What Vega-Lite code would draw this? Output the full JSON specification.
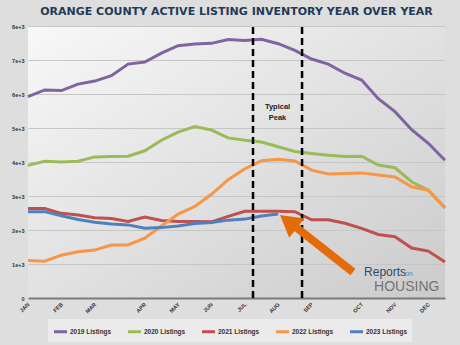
{
  "$schema": "https://vega.github.io/schema/vega-lite/v6.json",
  "width": 417,
  "height": 272,
  "autosize": {"type": "none"},
  "padding": {"left": 28, "top": 26, "right": 15, "bottom": 47},
  "background": "#dedede",
  "title": {
    "text": "ORANGE COUNTY ACTIVE LISTING INVENTORY YEAR OVER YEAR",
    "font": "DejaVu Sans",
    "fontSize": 11,
    "fontWeight": "bold",
    "color": "#1f3b57",
    "anchor": "middle",
    "offset": 7
  },
  "datasets": {
    "main": [
      {"week": 0, "series": "2019 Listings", "value": 5920},
      {"week": 1, "series": "2019 Listings", "value": 6120},
      {"week": 2, "series": "2019 Listings", "value": 6100},
      {"week": 3, "series": "2019 Listings", "value": 6290},
      {"week": 4, "series": "2019 Listings", "value": 6380},
      {"week": 5, "series": "2019 Listings", "value": 6540},
      {"week": 6, "series": "2019 Listings", "value": 6880},
      {"week": 7, "series": "2019 Listings", "value": 6940},
      {"week": 8, "series": "2019 Listings", "value": 7200},
      {"week": 9, "series": "2019 Listings", "value": 7420},
      {"week": 10, "series": "2019 Listings", "value": 7470},
      {"week": 11, "series": "2019 Listings", "value": 7490},
      {"week": 12, "series": "2019 Listings", "value": 7600},
      {"week": 13, "series": "2019 Listings", "value": 7570},
      {"week": 14, "series": "2019 Listings", "value": 7610},
      {"week": 15, "series": "2019 Listings", "value": 7480},
      {"week": 16, "series": "2019 Listings", "value": 7280},
      {"week": 17, "series": "2019 Listings", "value": 7030},
      {"week": 18, "series": "2019 Listings", "value": 6880},
      {"week": 19, "series": "2019 Listings", "value": 6610},
      {"week": 20, "series": "2019 Listings", "value": 6410},
      {"week": 21, "series": "2019 Listings", "value": 5860},
      {"week": 22, "series": "2019 Listings", "value": 5480},
      {"week": 23, "series": "2019 Listings", "value": 4950},
      {"week": 24, "series": "2019 Listings", "value": 4550},
      {"week": 25, "series": "2019 Listings", "value": 4050},
      {"week": 0, "series": "2020 Listings", "value": 3900},
      {"week": 1, "series": "2020 Listings", "value": 4020},
      {"week": 2, "series": "2020 Listings", "value": 4000},
      {"week": 3, "series": "2020 Listings", "value": 4020},
      {"week": 4, "series": "2020 Listings", "value": 4150},
      {"week": 5, "series": "2020 Listings", "value": 4160},
      {"week": 6, "series": "2020 Listings", "value": 4170},
      {"week": 7, "series": "2020 Listings", "value": 4330},
      {"week": 8, "series": "2020 Listings", "value": 4640},
      {"week": 9, "series": "2020 Listings", "value": 4880},
      {"week": 10, "series": "2020 Listings", "value": 5040},
      {"week": 11, "series": "2020 Listings", "value": 4940},
      {"week": 12, "series": "2020 Listings", "value": 4710},
      {"week": 13, "series": "2020 Listings", "value": 4640},
      {"week": 14, "series": "2020 Listings", "value": 4590},
      {"week": 15, "series": "2020 Listings", "value": 4450},
      {"week": 16, "series": "2020 Listings", "value": 4310},
      {"week": 17, "series": "2020 Listings", "value": 4250},
      {"week": 18, "series": "2020 Listings", "value": 4200},
      {"week": 19, "series": "2020 Listings", "value": 4160},
      {"week": 20, "series": "2020 Listings", "value": 4170},
      {"week": 21, "series": "2020 Listings", "value": 3910},
      {"week": 22, "series": "2020 Listings", "value": 3830},
      {"week": 23, "series": "2020 Listings", "value": 3420},
      {"week": 24, "series": "2020 Listings", "value": 3170},
      {"week": 25, "series": "2020 Listings", "value": 2660},
      {"week": 0, "series": "2021 Listings", "value": 2630},
      {"week": 1, "series": "2021 Listings", "value": 2630},
      {"week": 2, "series": "2021 Listings", "value": 2490},
      {"week": 3, "series": "2021 Listings", "value": 2440},
      {"week": 4, "series": "2021 Listings", "value": 2360},
      {"week": 5, "series": "2021 Listings", "value": 2340},
      {"week": 6, "series": "2021 Listings", "value": 2250},
      {"week": 7, "series": "2021 Listings", "value": 2380},
      {"week": 8, "series": "2021 Listings", "value": 2280},
      {"week": 9, "series": "2021 Listings", "value": 2250},
      {"week": 10, "series": "2021 Listings", "value": 2250},
      {"week": 11, "series": "2021 Listings", "value": 2240},
      {"week": 12, "series": "2021 Listings", "value": 2400},
      {"week": 13, "series": "2021 Listings", "value": 2550},
      {"week": 14, "series": "2021 Listings", "value": 2550},
      {"week": 15, "series": "2021 Listings", "value": 2550},
      {"week": 16, "series": "2021 Listings", "value": 2540},
      {"week": 17, "series": "2021 Listings", "value": 2300},
      {"week": 18, "series": "2021 Listings", "value": 2300},
      {"week": 19, "series": "2021 Listings", "value": 2200},
      {"week": 20, "series": "2021 Listings", "value": 2050},
      {"week": 21, "series": "2021 Listings", "value": 1870},
      {"week": 22, "series": "2021 Listings", "value": 1800},
      {"week": 23, "series": "2021 Listings", "value": 1470},
      {"week": 24, "series": "2021 Listings", "value": 1380},
      {"week": 25, "series": "2021 Listings", "value": 1060},
      {"week": 0, "series": "2022 Listings", "value": 1100},
      {"week": 1, "series": "2022 Listings", "value": 1080},
      {"week": 2, "series": "2022 Listings", "value": 1260},
      {"week": 3, "series": "2022 Listings", "value": 1360},
      {"week": 4, "series": "2022 Listings", "value": 1410},
      {"week": 5, "series": "2022 Listings", "value": 1560},
      {"week": 6, "series": "2022 Listings", "value": 1560},
      {"week": 7, "series": "2022 Listings", "value": 1760},
      {"week": 8, "series": "2022 Listings", "value": 2120},
      {"week": 9, "series": "2022 Listings", "value": 2470},
      {"week": 10, "series": "2022 Listings", "value": 2690},
      {"week": 11, "series": "2022 Listings", "value": 3050},
      {"week": 12, "series": "2022 Listings", "value": 3480},
      {"week": 13, "series": "2022 Listings", "value": 3800},
      {"week": 14, "series": "2022 Listings", "value": 4040},
      {"week": 15, "series": "2022 Listings", "value": 4080},
      {"week": 16, "series": "2022 Listings", "value": 4030},
      {"week": 17, "series": "2022 Listings", "value": 3760},
      {"week": 18, "series": "2022 Listings", "value": 3650},
      {"week": 19, "series": "2022 Listings", "value": 3660},
      {"week": 20, "series": "2022 Listings", "value": 3680},
      {"week": 21, "series": "2022 Listings", "value": 3620},
      {"week": 22, "series": "2022 Listings", "value": 3560},
      {"week": 23, "series": "2022 Listings", "value": 3270},
      {"week": 24, "series": "2022 Listings", "value": 3170},
      {"week": 25, "series": "2022 Listings", "value": 2640},
      {"week": 0, "series": "2023 Listings", "value": 2540},
      {"week": 1, "series": "2023 Listings", "value": 2540},
      {"week": 2, "series": "2023 Listings", "value": 2420},
      {"week": 3, "series": "2023 Listings", "value": 2310},
      {"week": 4, "series": "2023 Listings", "value": 2230},
      {"week": 5, "series": "2023 Listings", "value": 2180},
      {"week": 6, "series": "2023 Listings", "value": 2150},
      {"week": 7, "series": "2023 Listings", "value": 2050},
      {"week": 8, "series": "2023 Listings", "value": 2070},
      {"week": 9, "series": "2023 Listings", "value": 2120},
      {"week": 10, "series": "2023 Listings", "value": 2190},
      {"week": 11, "series": "2023 Listings", "value": 2220},
      {"week": 12, "series": "2023 Listings", "value": 2290},
      {"week": 13, "series": "2023 Listings", "value": 2320},
      {"week": 14, "series": "2023 Listings", "value": 2410},
      {"week": 15, "series": "2023 Listings", "value": 2470}
    ],
    "peaks": [{"week": 13.49, "value": 0, "value2": 8000}, {"week": 16.43, "value": 0, "value2": 8000}],
    "peaklabel": [{"week": 14.96, "value": 5560, "label": "Typical\nPeak"}],
    "arrow": [{"week": 19.48, "value": 765, "week2": 15.89, "value2": 2150}],
    "arrowhead": [{"week": 15.61, "value": 2250}],
    "logo1": [{"week": 20.15, "value": 650, "label": "Reports"}],
    "logo2": [{"week": 22.6, "value": 650, "label": "on"}],
    "logo3": [{"week": 20.75, "value": 205, "label": "HOUSING"}]
  },
  "encoding": {
    "x": {
      "field": "week",
      "type": "quantitative",
      "scale": {"domain": [0, 25], "nice": false, "zero": false},
      "axis": {
        "title": null,
        "values": [0, 2, 4, 7, 9, 11, 13, 15, 17, 20, 22, 24],
        "labelExpr": "['JAN','','FEB','','MAR','','','APR','','MAY','','JUN','','JUL','','AUG','','SEP','','','OCT','','NOV','','DEC',''][datum.value]",
        "labelAngle": -45,
        "labelAlign": "right",
        "labelBaseline": "middle",
        "labelFont": "Liberation Sans",
        "labelFontSize": 5.5,
        "labelFontWeight": "bold",
        "labelColor": "#333333",
        "labelPadding": 5,
        "labelFlush": false,
        "labelOverlap": false,
        "ticks": false,
        "grid": false,
        "domainColor": "#7a7a7a",
        "domainWidth": 2
      }
    },
    "y": {
      "field": "value",
      "type": "quantitative",
      "scale": {"domain": [0, 8000], "nice": false},
      "axis": {
        "title": null,
        "values": [0, 1000, 2000, 3000, 4000, 5000, 6000, 7000, 8000],
        "format": ",",
        "labelFont": "Liberation Sans",
        "labelFontSize": 5.5,
        "labelFontWeight": "bold",
        "labelColor": "#333333",
        "labelPadding": 4,
        "labelOverlap": false,
        "ticks": false,
        "domain": false,
        "grid": true,
        "gridColor": "#c6c6c6",
        "gridWidth": 1
      }
    }
  },
  "layer": [
    {
      "data": {"name": "main"},
      "mark": {"type": "line", "strokeWidth": 3, "interpolate": "linear"},
      "encoding": {
        "color": {
          "field": "series",
          "type": "nominal",
          "scale": {
            "domain": ["2019 Listings", "2020 Listings", "2021 Listings", "2022 Listings", "2023 Listings"],
            "range": ["#8064a2", "#9bbb59", "#c0504d", "#f79646", "#4f81bd"]
          },
          "legend": {
            "title": null,
            "orient": "none",
            "legendX": 20,
            "legendY": 293,
            "direction": "horizontal",
            "fillColor": "#ebebeb",
            "padding": 4,
            "symbolType": "stroke",
            "symbolStrokeWidth": 3,
            "symbolSize": 170,
            "labelFont": "Liberation Sans",
            "labelFontSize": 6.5,
            "labelFontWeight": "bold",
            "labelColor": "#333333",
            "labelOffset": 1,
            "columnPadding": 9
          }
        }
      }
    },
    {
      "data": {"name": "peaks"},
      "mark": {"type": "rule", "color": "#000000", "strokeWidth": 2.5, "strokeDash": [7, 4]},
      "encoding": {
        "y2": {"field": "value2"}
      }
    },
    {
      "data": {"name": "peaklabel"},
      "mark": {"type": "text", "font": "Liberation Sans", "fontSize": 7.5, "fontWeight": "bold", "color": "#222222", "lineBreak": "\n", "lineHeight": 11, "align": "center", "baseline": "alphabetic"},
      "encoding": {
        "text": {"field": "label"}
      }
    },
    {
      "data": {"name": "arrow"},
      "mark": {"type": "rule", "color": "#e36c09", "strokeWidth": 8, "strokeCap": "butt"},
      "encoding": {
        "x2": {"field": "week2"},
        "y2": {"field": "value2"}
      }
    },
    {
      "data": {"name": "arrowhead"},
      "mark": {"type": "point", "shape": "triangle-up", "filled": true, "color": "#e36c09", "opacity": 1, "size": 600, "angle": -52}
    },
    {
      "data": {"name": "logo1"},
      "mark": {"type": "text", "font": "Liberation Sans", "fontSize": 12, "color": "#2a4d6e", "align": "left", "baseline": "alphabetic"},
      "encoding": {"text": {"field": "label"}}
    },
    {
      "data": {"name": "logo2"},
      "mark": {"type": "text", "font": "Liberation Sans", "fontSize": 7, "color": "#3d8fc6", "align": "left", "baseline": "alphabetic"},
      "encoding": {"text": {"field": "label"}}
    },
    {
      "data": {"name": "logo3"},
      "mark": {"type": "text", "font": "Liberation Sans", "fontSize": 14, "color": "#737373", "align": "left", "baseline": "alphabetic"},
      "encoding": {"text": {"field": "label"}}
    }
  ],
  "config": {
    "view": {
      "stroke": null,
      "fill": {
        "gradient": "linear",
        "x1": 0, "y1": 0, "x2": 1, "y2": 1,
        "stops": [{"offset": 0, "color": "#f8f8f8"}, {"offset": 1, "color": "#cbcbcb"}]
      }
    }
  }
}
